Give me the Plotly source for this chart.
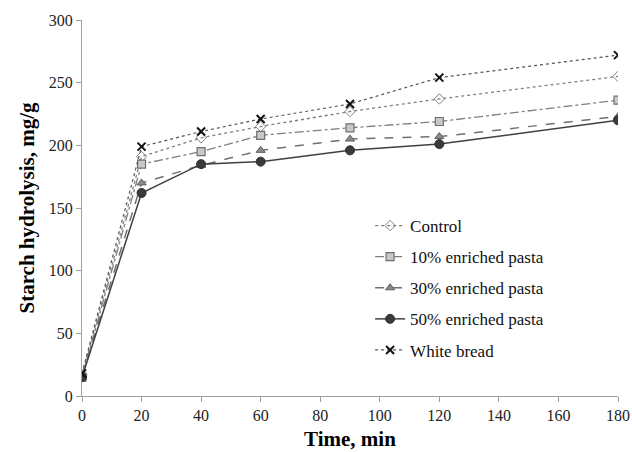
import plotly.graph_objects as go

time_min = [0, 20, 40, 60, 90, 120, 180]
control = [17, 191, 206, 215, 227, 237, 255]
enriched_10 = [15, 185, 195, 208, 214, 219, 236]
enriched_30 = [16, 170, 184, 196, 205, 207, 223]
enriched_50 = [15, 162, 185, 187, 196, 201, 220]
white_bread = [18, 199, 211, 221, 233, 254, 272]

series = [
    ("Control", control, dict(color="#7f7f7f", width=1.3, dash="dot"),
     dict(symbol="diamond-open", size=8, color="#808080", line=dict(width=1, color="#808080"))),
    ("10% enriched pasta", enriched_10, dict(color="#7f7f7f", width=1.3, dash="dashdot"),
     dict(symbol="square", size=8, color="#c8c8c8", line=dict(width=1.2, color="#707070"))),
    ("30% enriched pasta", enriched_30, dict(color="#707070", width=1.5, dash="dash"),
     dict(symbol="triangle-up", size=8, color="#8a8a8a", line=dict(width=1, color="#606060"))),
    ("50% enriched pasta", enriched_50, dict(color="#404040", width=1.5, dash="solid"),
     dict(symbol="circle", size=9, color="#3a3a3a", line=dict(width=1, color="#303030"))),
    ("White bread", white_bread, dict(color="#555555", width=1.2, dash="dot"),
     dict(symbol="x-thin", size=8, color="#111111", line=dict(width=2, color="#111111"))),
]

fig = go.Figure()
for i, (name, vals, line, marker) in enumerate(series):
    fig.add_trace(go.Scatter(x=time_min, y=vals, name=name, mode="lines+markers",
                             line=line, marker=marker, legendgroup=f"g{i}"))

font_family = "Liberation Serif"
fig.update_layout(
    width=632, height=452,
    margin=dict(l=82, r=14, t=20, b=56),
    paper_bgcolor="white", plot_bgcolor="white",
    font=dict(family=font_family, size=16, color="#222222"),
    showlegend=True,
    legend=dict(x=0.5375, y=0.5, xanchor="left", yanchor="top",
                font=dict(family=font_family, size=17, color="#111111"),
                tracegroupgap=6, bgcolor="rgba(0,0,0,0)", itemwidth=30),
    xaxis=dict(range=[0, 180], tickvals=[0, 20, 40, 60, 80, 100, 120, 140, 160, 180],
               automargin=False,
               showgrid=False, zeroline=False, showline=True, linecolor="#a0a0a0", linewidth=1,
               ticks="outside", ticklen=5, tickcolor="#a0a0a0",
               tickfont=dict(family=font_family, size=16, color="#222222"),
               title=dict(text="<b>Time, min</b>", font=dict(family=font_family, size=21, color="#000000"), standoff=8)),
    yaxis=dict(range=[0, 300], tickvals=[0, 50, 100, 150, 200, 250, 300],
               automargin=False,
               showgrid=False, zeroline=False, showline=True, linecolor="#a0a0a0", linewidth=1,
               ticks="outside", ticklen=5, tickcolor="#a0a0a0",
               tickfont=dict(family=font_family, size=16, color="#222222"),
               title=dict(text="<b>Starch hydrolysis, mg/g</b>", font=dict(family=font_family, size=21, color="#000000"), standoff=8)),
)

fig.write_html("out.html", config={"displayModeBar": False},
               post_script="document.body.style.margin='0';document.body.style.overflow='hidden';")
